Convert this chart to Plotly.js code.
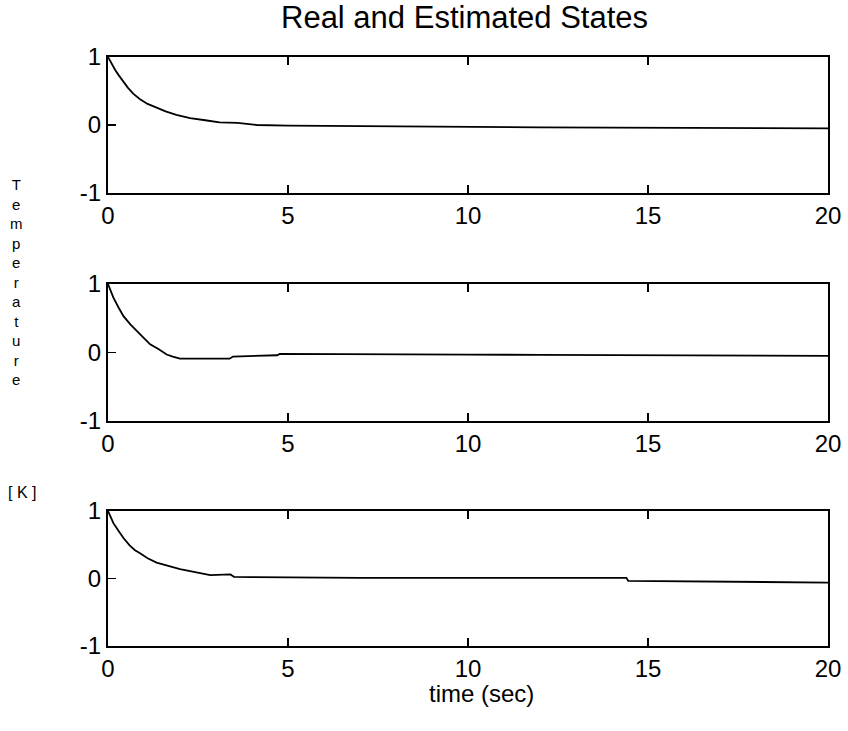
<!DOCTYPE html>
<html>
<head>
<meta charset="utf-8">
<script src="https://cdn.plot.ly/plotly-3.0.1.min.js"></script>
<style>html,body{margin:0;padding:0;background:#fff;}#chart{width:848px;height:731px;}</style>
</head>
<body>
<div id="chart"></div>
<script>
// ---- data ----
var t1 = [0, 0.1, 0.2, 0.3, 0.43, 0.55, 0.7, 0.89, 1.1, 1.35, 1.6, 1.9, 2.28, 2.7, 3.1, 3.6, 4.13, 5, 6, 8, 10, 12, 14, 16, 18, 20];
var s1 = [1, 0.9, 0.81, 0.73, 0.63, 0.55, 0.46, 0.38, 0.31, 0.25, 0.20, 0.15, 0.10, 0.07, 0.04, 0.03, 0.0, -0.01, -0.015, -0.02, -0.03, -0.035, -0.04, -0.045, -0.05, -0.05];

var t2 = [0, 0.15, 0.3, 0.43, 0.62, 0.75, 0.89, 1.05, 1.17, 1.4, 1.63, 1.8, 2.0, 2.5, 3.0, 3.38, 3.47, 4.0, 4.7, 4.77, 6, 8, 10, 12, 14, 16, 18, 20];
var s2 = [1, 0.8, 0.65, 0.53, 0.41, 0.34, 0.26, 0.18, 0.12, 0.05, -0.03, -0.06, -0.09, -0.09, -0.09, -0.09, -0.06, -0.05, -0.04, -0.02, -0.02, -0.025, -0.03, -0.035, -0.04, -0.045, -0.05, -0.05];

var t3 = [0, 0.15, 0.3, 0.43, 0.6, 0.75, 0.89, 1.1, 1.35, 1.72, 2.0, 2.28, 2.84, 3.4, 3.5, 4.0, 5.05, 7, 10, 12, 14.4, 14.45, 16, 18, 20];
var s3 = [1, 0.82, 0.7, 0.6, 0.49, 0.42, 0.375, 0.3, 0.235, 0.175, 0.14, 0.11, 0.05, 0.06, 0.025, 0.02, 0.015, 0.01, 0.01, 0.01, 0.01, -0.035, -0.04, -0.05, -0.06];

var xTicks = [0, 5, 10, 15, 20];
var xTickLabels = ["0", "5", "10", "15", "20"];
var yTicks = [-1, 0, 1];
var yTickLabels = ["-1", "0", "1"];

var titleText = "Real and Estimated States";
var xLabel = "time (sec)";
var yLabelWord = "Temperature";
var yLabelUnit = "[ K ]";

// ---- layout ----
var W = 848, H = 731;
function px(x){return x / W;}
function py(y){return 1 - y / H;}

var FONT = "Liberation Sans, Arial, sans-serif";
var xDom = [px(108), px(828)];
var yDoms = [[py(193), py(57)], [py(421), py(284)], [py(646), py(511)]];

function xa(anchor){
  return {domain: xDom, range: [0, 20], tickvals: xTicks, ticktext: xTickLabels,
    showline: true, linewidth: 2, linecolor: '#000', mirror: 'ticks',
    ticks: 'inside', ticklen: 8, tickwidth: 1.5, tickcolor: '#000',
    showgrid: false, zeroline: false, anchor: anchor, fixedrange: true,
    tickfont: {family: FONT, size: 24, color: '#000'}};
}
function ya(i, anchor){
  return {domain: yDoms[i], range: [-1, 1], tickvals: yTicks, ticktext: yTickLabels,
    showline: true, linewidth: 2, linecolor: '#000', mirror: true,
    ticks: 'inside', ticklen: 8, tickwidth: 1.5, tickcolor: '#000',
    showgrid: false, zeroline: false, anchor: anchor,
    tickfont: {family: FONT, size: 24, color: '#000'}};
}

var lineStyle = {color: '#000', width: 1.8};
var data = [
  {x: t1, y: s1, xaxis: 'x', yaxis: 'y', mode: 'lines', line: lineStyle, hoverinfo: 'skip'},
  {x: t2, y: s2, xaxis: 'x2', yaxis: 'y2', mode: 'lines', line: lineStyle, hoverinfo: 'skip'},
  {x: t3, y: s3, xaxis: 'x3', yaxis: 'y3', mode: 'lines', line: lineStyle, hoverinfo: 'skip'}
];

var layout = {
  width: W, height: H,
  margin: {l: 0, r: 0, t: 0, b: 0},
  paper_bgcolor: '#fff', plot_bgcolor: '#fff',
  showlegend: false,
  xaxis: xa('y'), yaxis: ya(0, 'x'),
  xaxis2: xa('y2'), yaxis2: ya(1, 'x2'),
  xaxis3: xa('y3'), yaxis3: ya(2, 'x3'),
  annotations: [
    {text: titleText, xref: 'paper', yref: 'paper', x: px(465), y: py(17), xanchor: 'center', yanchor: 'middle',
     showarrow: false, font: {family: FONT, size: 31, color: '#000'}},
    {text: xLabel, xref: 'paper', yref: 'paper', x: px(481), y: py(693), xanchor: 'center', yanchor: 'middle',
     showarrow: false, font: {family: FONT, size: 24, color: '#000'}},
    {text: yLabelWord.split('').join('<br>'), xref: 'paper', yref: 'paper', x: px(16), y: py(282), xanchor: 'center', yanchor: 'middle',
     showarrow: false, font: {family: FONT, size: 15, color: '#000'}},
    {text: yLabelUnit, xref: 'paper', yref: 'paper', x: px(22), y: py(492), xanchor: 'center', yanchor: 'middle',
     showarrow: false, font: {family: FONT, size: 16, color: '#000'}}
  ]
};

Plotly.newPlot('chart', data, layout, {staticPlot: true, displayModeBar: false});
</script>
</body>
</html>
